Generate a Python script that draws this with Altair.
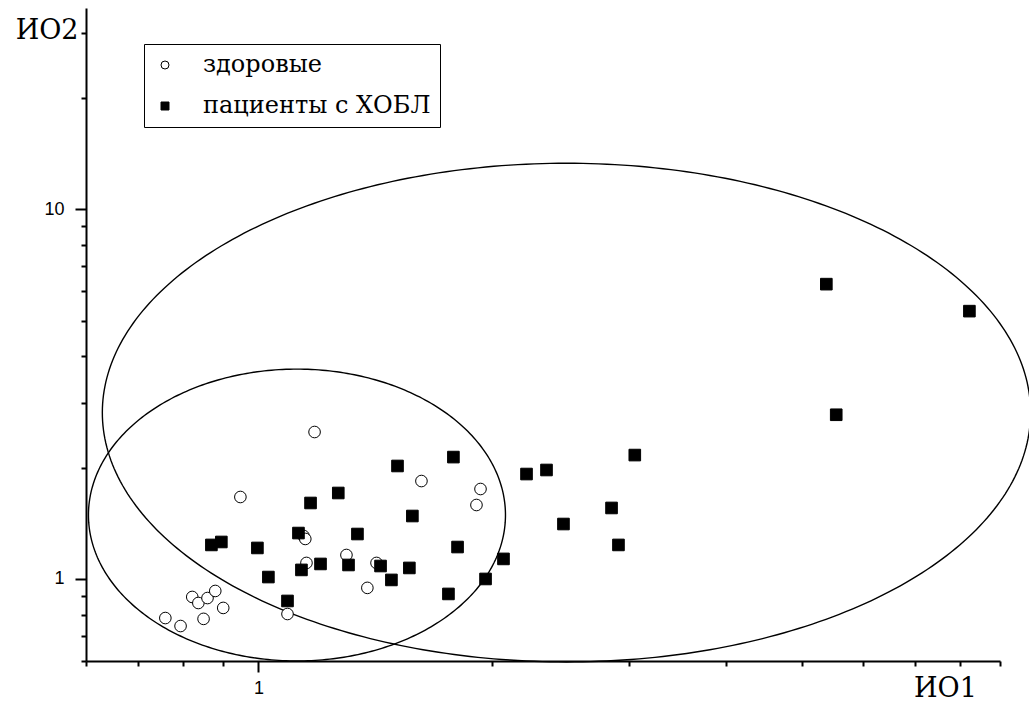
import altair as alt
import numpy as np
import pandas as pd

# ---- data ----
groups = ["здоровые", "пациенты с ХОБЛ"]

healthy_x = [0.759, 0.794, 0.822, 0.837, 0.860, 0.880, 0.901, 0.850, 0.948, 1.090,
             1.143, 1.149, 1.153, 1.181, 1.298, 1.381, 1.419, 1.621, 1.931, 1.908]
healthy_y = [0.784, 0.746, 0.894, 0.861, 0.888, 0.928, 0.835, 0.780, 1.666, 0.804,
             1.307, 1.283, 1.105, 2.497, 1.161, 0.946, 1.105, 1.840, 1.751, 1.585]

copd_x = [5.38, 8.22, 5.54, 3.05, 1.782, 1.510, 2.348, 2.213, 1.267, 1.167, 2.847,
          1.578, 2.469, 1.341, 1.126, 0.870, 0.896, 0.997, 1.804, 2.906, 2.067,
          1.202, 1.306, 1.436, 1.564, 1.136, 1.030, 1.483, 1.960, 1.756, 1.090]
copd_y = [6.27, 5.30, 2.78, 2.163, 2.136, 2.021, 1.971, 1.922, 1.708, 1.605, 1.556,
          1.480, 1.408, 1.323, 1.331, 1.236, 1.259, 1.213, 1.220, 1.236, 1.133,
          1.098, 1.091, 1.084, 1.071, 1.058, 1.012, 0.994, 1.000, 0.911, 0.872]

# ellipses (in log-log space): centre and semi-axes in decades
ellipse_ids = ["healthy", "copd"]
ellipse_cx = [1.121, 2.491]
ellipse_cy = [1.489, 2.818]
ellipse_ax = [0.2683, 0.5972]
ellipse_ay = [0.3946, 0.6743]

x_tick_values = [0.6, 0.7, 0.8, 0.9, 1, 2, 3, 4, 5, 6, 7, 8, 9]
y_tick_values = [0.6, 0.7, 0.8, 0.9, 1, 2, 3, 4, 5, 6, 7, 8, 9, 10, 20, 30]

SERIF = "DejaVu Serif, Liberation Serif, Times New Roman, serif"
SANS = "Liberation Sans, Arial, sans-serif"

# ---- tables ----
pts = pd.DataFrame({
    "x": healthy_x + copd_x,
    "y": healthy_y + copd_y,
    "group": [groups[0]] * len(healthy_x) + [groups[1]] * len(copd_x),
})

t = np.linspace(0, 2 * np.pi, 361)
rows = []
for name, cx, cy, ax_, ay_ in zip(ellipse_ids, ellipse_cx, ellipse_cy, ellipse_ax, ellipse_ay):
    lx = np.log10(cx) + ax_ * np.cos(t)
    ly = np.log10(cy) + ay_ * np.sin(t)
    for i, (a, b) in enumerate(zip(lx, ly)):
        rows.append({"id": name, "order": i, "x": float(10 ** a), "y": float(10 ** b)})
ell = pd.DataFrame(rows)

xscale = alt.Scale(type="log", domain=[0.6, 9], nice=False)
yscale = alt.Scale(type="log", domain=[0.6, 35], nice=False)

common_axis = dict(
    grid=False, domainWidth=2, tickWidth=2, domainColor="black", tickColor="black",
    labelColor="black", labelFont=SANS, labelFontSize=18,
    labelOverlap=False, labelFlush=False,
    titleFont=SERIF, titleFontSize=27, titleFontWeight="normal",
    titleColor="black",
)

xaxis = alt.Axis(
    values=x_tick_values,
    labelExpr="datum.value == 1 ? '1' : ''",
    tickSize={"condition": {"test": "datum.value == 1", "value": 11}, "value": 5},
    labelPadding=7,
    title="ИО1", titleX=859, titleY=27, titleAlign="center", titleBaseline="middle",
    **common_axis,
)
yaxis = alt.Axis(
    values=y_tick_values,
    labelExpr="datum.value == 1 ? '1' : datum.value == 10 ? '10' : ''",
    tickSize={"condition": {"test": "datum.value == 1 || datum.value == 10", "value": 11}, "value": 5},
    labelPadding=11,
    title="ИО2", titleAngle=0, titleX=-8, titleY=22, titleAlign="right", titleBaseline="middle",
    **common_axis,
)

legend = alt.Legend(
    title=None, orient="none", legendX=58, legendY=36,
    strokeColor="black", fillColor="white", padding=9,
    labelFont=SERIF, labelFontSize=24, labelColor="black",
    labelOffset=26, rowPadding=17, symbolSize=64,
    symbolStrokeColor="black", symbolStrokeWidth=1, labelLimit=400,
)

ellipses = alt.Chart(ell).mark_line(clip=False, color="black", strokeWidth=1.4).encode(
    x=alt.X("x:Q", scale=xscale, axis=xaxis),
    y=alt.Y("y:Q", scale=yscale, axis=yaxis),
    detail="id:N",
    order="order:Q",
)

points = alt.Chart(pts).mark_point(
    filled=True, size=135, strokeWidth=1, opacity=1, clip=False
).encode(
    x=alt.X("x:Q", scale=xscale, axis=xaxis),
    y=alt.Y("y:Q", scale=yscale, axis=yaxis),
    shape=alt.Shape("group:N", scale=alt.Scale(domain=groups, range=["circle", "square"]), legend=legend),
    fill=alt.Fill("group:N", scale=alt.Scale(domain=groups, range=["white", "black"]), legend=legend),
    stroke=alt.Stroke("group:N", scale=alt.Scale(domain=groups, range=["black", "black"]), legend=legend),
)

chart = alt.layer(ellipses, points).properties(
    width=914, height=653,
    padding={"left": 86, "top": 8, "right": 29, "bottom": 40},
    autosize=alt.AutoSizeParams(type="none"),
    background="white",
).configure_view(stroke=None)

chart.save("out.html", embed_options={"renderer": "svg", "actions": False})
